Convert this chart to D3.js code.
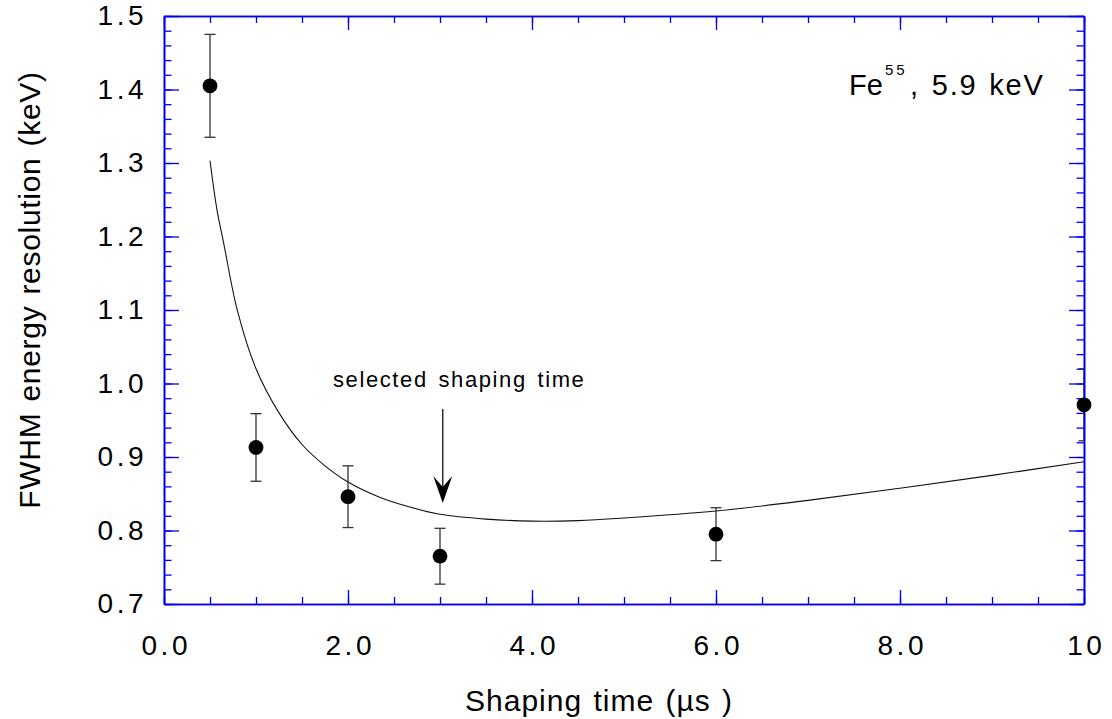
<!DOCTYPE html>
<html>
<head>
<meta charset="utf-8">
<script src="https://cdn.jsdelivr.net/npm/d3@7"></script>
<style>
  html, body { margin: 0; padding: 0; background: #fff; }
  svg { display: block; font-family: "Liberation Sans", Arial, Helvetica, sans-serif; }
</style>
</head>
<body>
<svg id="chart" width="1112" height="719"></svg>
<script>
// ---- data ----
const shapingTimes = [0.5, 1.0, 2.0, 3.0, 6.0, 10.0];
const fwhmValues   = [1.405, 0.913, 0.846, 0.765, 0.795, 0.971];
const fwhmErrors   = [0.070, 0.046, 0.042, 0.038, 0.036, 0.049];

const fitTimes  = [0.5, 0.575, 0.65, 0.8, 1.0, 1.25, 1.5, 1.75, 2.0, 2.35, 2.7, 3.0, 3.5, 4.0, 4.5, 5.0, 6.0, 7.0, 8.0, 9.0, 10.0];
const fitValues = [1.303, 1.237, 1.19, 1.098, 1.02, 0.96, 0.917, 0.888, 0.866, 0.845, 0.831, 0.822, 0.8155, 0.8128, 0.8135, 0.817, 0.8265, 0.841, 0.8575, 0.875, 0.8936];

const xTickValues = [0, 2, 4, 6, 8, 10];
const xTickLabels = ["0.0", "2.0", "4.0", "6.0", "8.0", "10"];
const yTickValues = [0.7, 0.8, 0.9, 1.0, 1.1, 1.2, 1.3, 1.4, 1.5];
const yTickLabels = ["0.7", "0.8", "0.9", "1.0", "1.1", "1.2", "1.3", "1.4", "1.5"];

const xTitle = "Shaping time (\u00b5s )";
const yTitle = "FWHM energy resolution (keV)";
const annotationText = "selected shaping time";
const annotationTime = 3.03;

// ---- layout ----
const L = 164, R = 1084, T = 16, B = 604;
const AXIS = "#0000f0";

const svg = d3.select("#chart");
svg.append("rect").attr("width", 1112).attr("height", 719).attr("fill", "#fff");

const x = d3.scaleLinear().domain([0, 10]).range([L, R]);
const y = d3.scaleLinear().domain([0.7, 1.5]).range([B, T]);

const minorX = d3.range(0, 10.0001, 0.5);
const minorY = d3.range(0, 41).map(i => 0.7 + i * 0.02);

function styleAxis(g) {
  g.select(".domain").attr("stroke", AXIS).attr("stroke-width", 1.6);
  g.selectAll(".tick line").attr("stroke", AXIS).attr("stroke-width", 1.3);
}

// minor ticks (all four sides)
svg.append("g").attr("transform", `translate(0,${B})`)
  .call(d3.axisBottom(x).tickValues(minorX).tickSize(-7).tickSizeOuter(0).tickFormat(""))
  .call(styleAxis);
svg.append("g").attr("transform", `translate(0,${T})`)
  .call(d3.axisTop(x).tickValues(minorX).tickSize(-7).tickSizeOuter(0).tickFormat(""))
  .call(styleAxis);
svg.append("g").attr("transform", `translate(${L},0)`)
  .call(d3.axisLeft(y).tickValues(minorY).tickSize(-7.5).tickSizeOuter(0).tickFormat(""))
  .call(styleAxis);
svg.append("g").attr("transform", `translate(${R},0)`)
  .call(d3.axisRight(y).tickValues(minorY).tickSize(-7.5).tickSizeOuter(0).tickFormat(""))
  .call(styleAxis);

// major ticks + labels
const LS = 3.5;
const xb = svg.append("g").attr("transform", `translate(0,${B})`)
  .call(d3.axisBottom(x).tickValues(xTickValues).tickSize(-14).tickSizeOuter(0).tickPadding(31)
    .tickFormat((d, i) => xTickLabels[i]))
  .call(styleAxis);
xb.selectAll("text").attr("font-size", 28).attr("fill", "#000")
  .attr("letter-spacing", LS).attr("dx", LS / 2)
  .attr("font-family", "'Liberation Sans', Arial, sans-serif");

svg.append("g").attr("transform", `translate(0,${T})`)
  .call(d3.axisTop(x).tickValues(xTickValues).tickSize(-14).tickSizeOuter(0).tickFormat(""))
  .call(styleAxis);

const yl = svg.append("g").attr("transform", `translate(${L},0)`)
  .call(d3.axisLeft(y).tickValues(yTickValues).tickSize(-15).tickSizeOuter(0).tickPadding(17)
    .tickFormat((d, i) => yTickLabels[i]))
  .call(styleAxis);
yl.selectAll("text").attr("font-size", 28).attr("fill", "#000")
  .attr("letter-spacing", LS)
  .attr("font-family", "'Liberation Sans', Arial, sans-serif");

svg.append("g").attr("transform", `translate(${R},0)`)
  .call(d3.axisRight(y).tickValues(yTickValues).tickSize(-15).tickSizeOuter(0).tickFormat(""))
  .call(styleAxis);

// clip for bars/curve
svg.append("clipPath").attr("id", "plotClip")
  .append("rect").attr("x", L).attr("y", T).attr("width", R - L).attr("height", B - T);

const pts = shapingTimes.map((t, i) => ({ t, v: fwhmValues[i], e: fwhmErrors[i] }));

// fitted curve
const fit = fitTimes.map((t, i) => [t, fitValues[i]]);
svg.append("path")
  .attr("clip-path", "url(#plotClip)")
  .attr("d", d3.line().x(d => x(d[0])).y(d => y(d[1])).curve(d3.curveCatmullRom.alpha(0.5))(fit))
  .attr("fill", "none").attr("stroke", "#111").attr("stroke-width", 1.1);

// error bars
const eb = svg.append("g").attr("clip-path", "url(#plotClip)")
  .attr("stroke", "#333").attr("stroke-width", 1.3);
pts.forEach(p => {
  const cx = x(p.t);
  eb.append("line").attr("x1", cx).attr("x2", cx).attr("y1", y(p.v + p.e)).attr("y2", y(p.v - p.e));
  eb.append("line").attr("x1", cx - 5.5).attr("x2", cx + 5.5).attr("y1", y(p.v + p.e)).attr("y2", y(p.v + p.e));
  eb.append("line").attr("x1", cx - 5.5).attr("x2", cx + 5.5).attr("y1", y(p.v - p.e)).attr("y2", y(p.v - p.e));
});

// points
svg.append("g").selectAll("circle").data(pts).join("circle")
  .attr("cx", d => x(d.t)).attr("cy", d => y(d.v)).attr("r", 7.4).attr("fill", "#000");

// annotation
const ax = x(annotationTime);
svg.append("text").attr("x", 333).attr("y", 387)
  .attr("font-size", 22).attr("letter-spacing", 1.6).attr("word-spacing", 3)
  .attr("fill", "#000").text(annotationText);
svg.append("line").attr("x1", ax).attr("x2", ax).attr("y1", 409).attr("y2", 490)
  .attr("stroke", "#222").attr("stroke-width", 1.4);
svg.append("path")
  .attr("d", `M${ax},503 L${ax - 9.5},476 L${ax},487 L${ax + 9.5},476 Z`)
  .attr("fill", "#000");

// legend text  Fe^55, 5.9 keV
svg.append("text").attr("x", 849).attr("y", 95).attr("font-size", 29).attr("fill", "#000").text("Fe");
svg.append("text").attr("x", 885).attr("y", 75).attr("font-size", 15).attr("letter-spacing", 3).attr("fill", "#000").text("55");
svg.append("text").attr("x", 910).attr("y", 95).attr("font-size", 29).attr("letter-spacing", 1.8)
  .attr("word-spacing", 2).attr("fill", "#000").text(", 5.9 keV");

// axis titles
svg.append("text").attr("x", 465).attr("y", 711).attr("font-size", 30)
  .attr("letter-spacing", 1).attr("word-spacing", 2).attr("fill", "#000").text(xTitle);
svg.append("text").attr("transform", "translate(40,290) rotate(-90)")
  .attr("text-anchor", "middle").attr("font-size", 30).attr("letter-spacing", 0.7)
  .attr("word-spacing", 2).attr("fill", "#000").text(yTitle);
</script>
</body>
</html>
